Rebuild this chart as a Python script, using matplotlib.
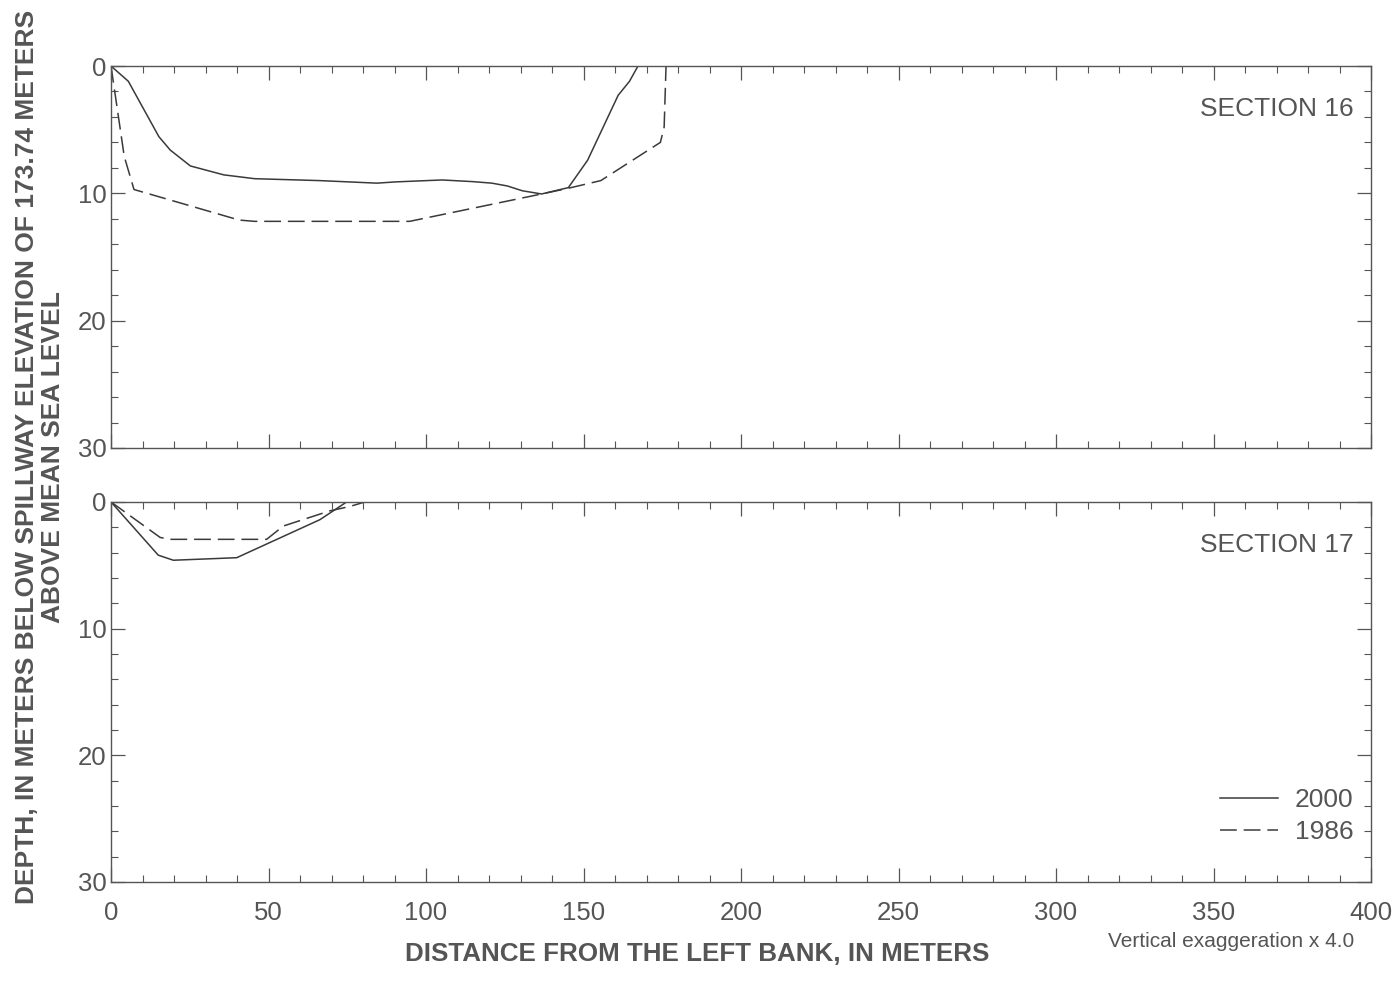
import matplotlib.pyplot as plt
from matplotlib.ticker import MultipleLocator

# Section 16
s16_x_2000 = [0, 5.5, 15.2, 18.8, 25.2, 35.8, 45.6, 66.2, 84.4, 90.5, 105.1, 114.8,
              120.9, 125.8, 130.6, 136.7, 145.2, 151.3, 161.0, 164.6, 167.3]
s16_d_2000 = [0, 1.2, 5.55, 6.6, 7.85, 8.55, 8.85, 9.0, 9.2, 9.1, 8.95, 9.08,
              9.2, 9.42, 9.8, 10.05, 9.55, 7.4, 2.3, 1.2, 0]
s16_x_1986 = [0, 4.2, 7.3, 40.7, 45.6, 94.8, 136.7, 145.2, 155.5, 174.4, 175.6, 176.2]
s16_d_1986 = [0, 7.1, 9.7, 12.1, 12.2, 12.2, 10.05, 9.6, 9.0, 6.0, 4.8, 0]

# Section 17
s17_x_2000 = [0, 15.0, 19.8, 39.9, 66.3, 74.8]
s17_d_2000 = [0, 4.2, 4.6, 4.4, 1.4, 0]
s17_x_1986 = [0, 15.6, 18.7, 49.4, 54.7, 69.5, 75.9, 80.6]
s17_d_1986 = [0, 2.8, 2.95, 2.95, 1.9, 0.7, 0.35, 0]

sections = [("SECTION 16", s16_x_2000, s16_d_2000, s16_x_1986, s16_d_1986),
            ("SECTION 17", s17_x_2000, s17_d_2000, s17_x_1986, s17_d_1986)]

plt.rcParams['font.family'] = ['Liberation Sans', 'DejaVu Sans']
grey = '#555555'
line_c = '#3a3a3a'

fig = plt.figure(figsize=(13.98, 9.94), dpi=100)
boxes = [[0.0794, 0.5493, 0.9013, 0.3843], [0.0794, 0.1127, 0.9013, 0.3823]]

for i, (name, x0, d0, x1, d1) in enumerate(sections):
    ax = fig.add_axes(boxes[i])
    ax.plot(x0, d0, '-', color=line_c, lw=1.1, label='2000')
    ax.plot(x1, d1, '--', color=line_c, lw=1.1, dashes=(11, 4.5), label='1986')
    ax.set_xlim(0, 400)
    ax.set_ylim(30, 0)
    ax.xaxis.set_major_locator(MultipleLocator(50))
    ax.xaxis.set_minor_locator(MultipleLocator(10))
    ax.yaxis.set_major_locator(MultipleLocator(10))
    ax.yaxis.set_minor_locator(MultipleLocator(2))
    ax.tick_params(which='both', direction='in', top=True, right=True,
                   color=grey, labelcolor=grey, labelsize=18.5)
    ax.tick_params(which='major', length=10, width=0.9)
    ax.tick_params(which='minor', length=5, width=0.8)
    ax.tick_params(axis='y', pad=3)
    ax.tick_params(axis='x', pad=14)
    for sp in ax.spines.values():
        sp.set_color(grey)
        sp.set_linewidth(1.0)
    ax.text(0.9865, 0.888, name, transform=ax.transAxes, ha='right', va='center',
            fontsize=19, color=grey)
    if i == 0:
        ax.set_xticklabels([])
    else:
        ax.legend(loc='lower right', bbox_to_anchor=(0.986, 0.1), frameon=False,
                  fontsize=19, handlelength=2.2, handletextpad=0.65,
                  labelspacing=0.3, borderpad=0, borderaxespad=0, labelcolor=grey)

fig.text(0.0285, 0.540,
         "DEPTH, IN METERS BELOW SPILLWAY ELEVATION OF 173.74 METERS\nABOVE MEAN SEA LEVEL",
         rotation=90, ha='center', va='center', multialignment='center',
         fontsize=19, fontweight='bold', color=grey, linespacing=1.12)
fig.text(0.4986, 0.040, "DISTANCE FROM THE LEFT BANK, IN METERS",
         ha='center', va='center', fontsize=18.7, fontweight='bold', color=grey)
fig.text(0.969, 0.053, "Vertical exaggeration x 4.0", ha='right', va='center',
         fontsize=15, color=grey)

plt.savefig('out.png', dpi=100)
